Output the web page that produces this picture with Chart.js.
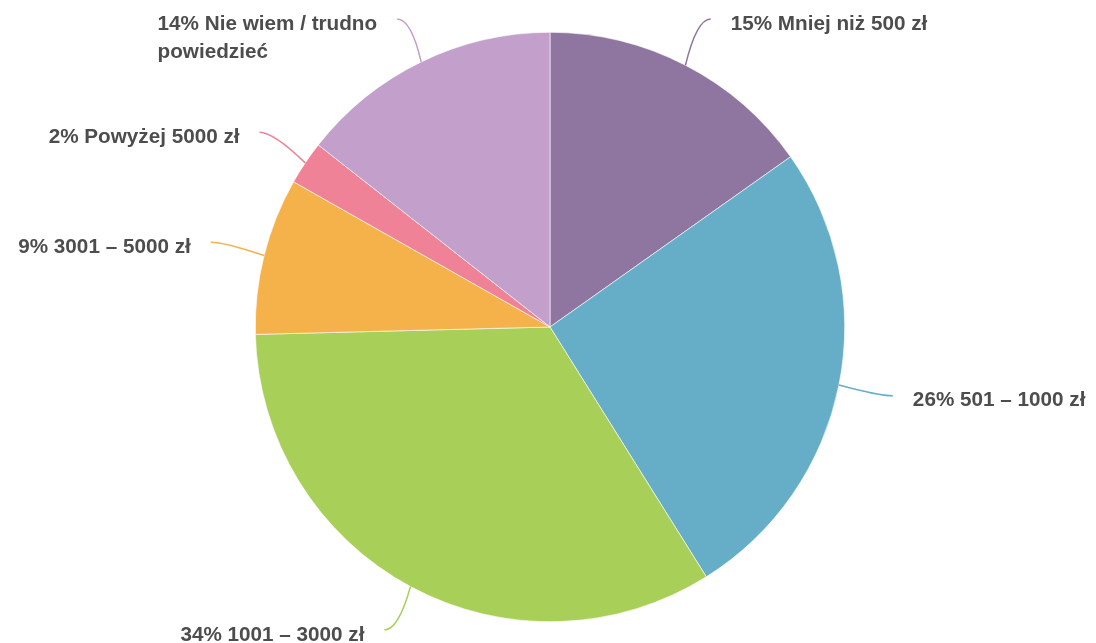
<!DOCTYPE html>
<html>
<head>
<meta charset="utf-8">
<script src="https://cdn.jsdelivr.net/npm/chart.js@4"></script>
<style>
    html, body { margin: 0; padding: 0; background: #fff; }
    #wrap { width: 1096px; height: 643px; position: relative; }
</style>
</head>
<body>
<div id="wrap"><canvas id="pieChart" width="1096" height="643"></canvas></div>
<script>
const LABELS = [
    'Mniej niż 500 zł',
    '501 – 1000 zł',
    '1001 – 3000 zł',
    '3001 – 5000 zł',
    'Powyżej 5000 zł',
    ['Nie wiem / trudno', 'powiedzieć'],
];
const VALUES = [15.2, 25.9, 33.5, 8.6, 2.4, 14.4];
const COLORS = ['#8e76a0', '#66aec8', '#a8cf58', '#f5b24a', '#ef8296', '#c39fcc'];

const LABEL_DISTANCE = 55;
const TEXT_GAP = 20;
const LINE_HEIGHT = 28;

// connector lines + labels, placed from each arc's own geometry
const outsideLabels = {
    id: 'outsideLabels',
    afterDatasetsDraw(chart) {
        const ctx = chart.ctx;
        const meta = chart.getDatasetMeta(0);
        ctx.save();
        ctx.font = 'bold 20.7px "Liberation Sans", Arial, sans-serif';
        ctx.textBaseline = 'middle';
        meta.data.forEach((arc, i) => {
            const { x, y, startAngle, endAngle, outerRadius } = arc.getProps(['x', 'y', 'startAngle', 'endAngle', 'outerRadius'], true);
            const mid = (startAngle + endAngle) / 2;
            const sx = x + Math.cos(mid) * outerRadius;
            const sy = y + Math.sin(mid) * outerRadius;
            const ex = x + Math.cos(mid) * (outerRadius + LABEL_DISTANCE);
            // keep labels inside the canvas
            const ey = Math.min(Math.max(y + Math.sin(mid) * (outerRadius + LABEL_DISTANCE), 19), chart.height - 13);
            const right = Math.cos(mid) >= 0;
            const sign = right ? 1 : -1;

            ctx.strokeStyle = COLORS[i];
            ctx.lineWidth = 1.5;
            ctx.beginPath();
            ctx.moveTo(sx, sy);
            ctx.quadraticCurveTo(ex - sign * 14, ey, ex, ey);
            ctx.stroke();

            const raw = LABELS[i];
            const lines = Array.isArray(raw) ? raw.slice() : [raw];
            lines[0] = Math.round(VALUES[i]) + '% ' + lines[0];
            const blockW = Math.max(...lines.map(l => ctx.measureText(l).width));
            const tx = right ? ex + TEXT_GAP : ex - TEXT_GAP - blockW;
            ctx.fillStyle = '#4d4d4d';
            ctx.textAlign = 'left';
            lines.forEach((line, j) => {
                ctx.fillText(line, tx, ey + 5 + j * LINE_HEIGHT);
            });
        });
        ctx.restore();
    }
};

new Chart(document.getElementById('pieChart'), {
    type: 'pie',
    data: {
        labels: LABELS.map(l => Array.isArray(l) ? l.join(' ') : l),
        datasets: [{
            data: VALUES,
            backgroundColor: COLORS,
            borderColor: '#ffffff',
            borderWidth: 0.6,
            hoverOffset: 0,
        }]
    },
    options: {
        responsive: false,
        animation: false,
        layout: {
            padding: { left: 255, right: 251, top: 32, bottom: 21 }
        },
        plugins: {
            legend: { display: false },
            tooltip: { enabled: false }
        },
        events: []
    },
    plugins: [outsideLabels]
});
</script>
</body>
</html>
